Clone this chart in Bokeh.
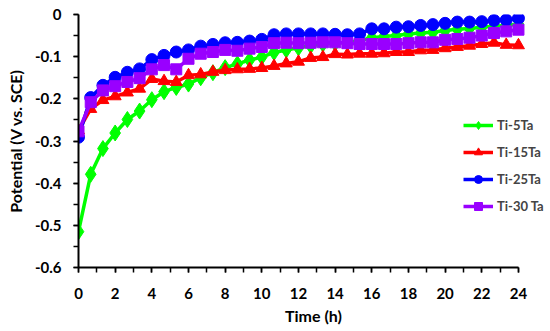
from bokeh.plotting import figure
from bokeh.models import Range1d, FixedTicker, Legend, LegendItem
from bokeh.embed import file_html
from bokeh.resources import INLINE

time_h = [0, 0.667, 1.333, 2, 2.667, 3.333, 4, 4.667, 5.333, 6, 6.667, 7.333, 8,
          8.667, 9.333, 10, 10.667, 11.333, 12, 12.667, 13.333, 14, 14.667, 15.333,
          16, 16.667, 17.333, 18, 18.667, 19.333, 20, 20.667, 21.333, 22, 22.667,
          23.333, 24]

ti5ta = [-0.515, -0.379, -0.318, -0.281, -0.249, -0.229, -0.202, -0.183, -0.173,
         -0.165, -0.150, -0.138, -0.126, -0.117, -0.108, -0.101, -0.090, -0.084,
         -0.079, -0.074, -0.070, -0.068, -0.066, -0.062, -0.055, -0.052, -0.050,
         -0.046, -0.044, -0.042, -0.038, -0.035, -0.033, -0.030, -0.028, -0.026,
         -0.023]

ti15ta = [-0.275, -0.224, -0.203, -0.194, -0.185, -0.176, -0.153, -0.158, -0.160,
          -0.144, -0.142, -0.136, -0.132, -0.130, -0.129, -0.127, -0.122, -0.116,
          -0.112, -0.103, -0.101, -0.094, -0.095, -0.093, -0.093, -0.092, -0.089,
          -0.089, -0.085, -0.084, -0.080, -0.077, -0.074, -0.070, -0.067, -0.072,
          -0.073]

ti25ta = [-0.291, -0.197, -0.168, -0.149, -0.137, -0.129, -0.107, -0.097, -0.089,
          -0.084, -0.075, -0.071, -0.067, -0.066, -0.063, -0.059, -0.048, -0.046,
          -0.046, -0.046, -0.046, -0.047, -0.048, -0.046, -0.034, -0.034, -0.030,
          -0.029, -0.026, -0.024, -0.021, -0.018, -0.018, -0.017, -0.014, -0.013,
          -0.009]

ti30ta = [-0.277, -0.208, -0.180, -0.170, -0.160, -0.151, -0.130, -0.120, -0.130,
          -0.105, -0.093, -0.089, -0.084, -0.086, -0.081, -0.077, -0.068, -0.067,
          -0.068, -0.067, -0.066, -0.066, -0.068, -0.070, -0.070, -0.070, -0.070,
          -0.068, -0.066, -0.066, -0.060, -0.058, -0.055, -0.050, -0.044, -0.040,
          -0.036]

series_names = ["Ti-5Ta", "Ti-15Ta", "Ti-25Ta", "Ti-30 Ta"]
series_values = [ti5ta, ti15ta, ti25ta, ti30ta]
series_colors = ["#00FF00", "#FF0000", "#0000FF", "#9900FF"]
series_markers = ["diamond", "triangle", "circle", "square"]
marker_sizes = [16, 12, 12, 11]

x_ticks = [0, 2, 4, 6, 8, 10, 12, 14, 16, 18, 20, 22, 24]
x_minor = list(range(0, 25))
y_ticks = [0, -0.1, -0.2, -0.3, -0.4, -0.5, -0.6]
y_tick_labels = ["0", "-0.1", "-0.2", "-0.3", "-0.4", "-0.5", "-0.6"]
y_minor = [0, -0.05, -0.1, -0.15, -0.2, -0.25, -0.3, -0.35, -0.4, -0.45, -0.5, -0.55, -0.6]

FONT = "Lato"

# frame: left 78, top 14, bottom 267; 24 h at x=518, frame continues to 548
p = figure(width=550, height=331, output_backend="svg", toolbar_location=None,
           x_range=Range1d(0, 25.64), y_range=Range1d(-0.6, 0),
           min_border_left=78, min_border_right=2, min_border_top=14,
           min_border_bottom=64)
p.outline_line_color = None
p.xgrid.visible = False
p.ygrid.visible = False

items = []
for name, vals, col, mk, ms in zip(series_names, series_values, series_colors,
                                   series_markers, marker_sizes):
    r1 = p.line(time_h, vals, line_color=col, line_width=3.5)
    r2 = p.scatter(time_h, vals, marker=mk, size=ms, fill_color=col, line_color=col)
    items.append(LegendItem(label=name, renderers=[r1, r2]))

legend = Legend(items=items, location=(385, 51), border_line_color=None,
                background_fill_alpha=0, padding=0, margin=0, spacing=7,
                glyph_width=30, glyph_height=20, label_height=20,
                label_standoff=4, label_text_font=FONT,
                label_text_font_style="bold", label_text_font_size="13px")
p.add_layout(legend, "center")

for ax in (p.xaxis[0], p.yaxis[0]):
    ax.axis_line_width = 2
    ax.axis_line_color = "black"
    ax.major_tick_line_width = 1.5
    ax.minor_tick_line_width = 1.5
    ax.major_tick_out = 5
    ax.minor_tick_out = 5
    ax.major_tick_in = 0
    ax.minor_tick_in = 0
    ax.major_label_text_font = FONT
    ax.major_label_text_font_style = "bold"
    ax.major_label_text_font_size = "15px"
    ax.major_label_text_color = "black"
    ax.axis_label_text_font = FONT
    ax.axis_label_text_font_style = "bold"
    ax.axis_label_text_font_size = "16px"
    ax.axis_label_text_color = "black"

p.xaxis.bounds = (0, 24)
p.xaxis.ticker = FixedTicker(ticks=x_ticks, minor_ticks=x_minor)
p.yaxis.ticker = FixedTicker(ticks=y_ticks, minor_ticks=y_minor)
p.yaxis.major_label_overrides = {t: l for t, l in zip(y_ticks, y_tick_labels)}
p.xaxis.axis_label = "Time (h)"
p.yaxis.axis_label = "Potential (V vs. SCE)"
p.xaxis.major_label_standoff = 15
p.yaxis.major_label_standoff = 12
p.xaxis.axis_label_standoff = 4
p.yaxis.axis_label_standoff = 7

open("out.html", "w").write(file_html(p, INLINE))
